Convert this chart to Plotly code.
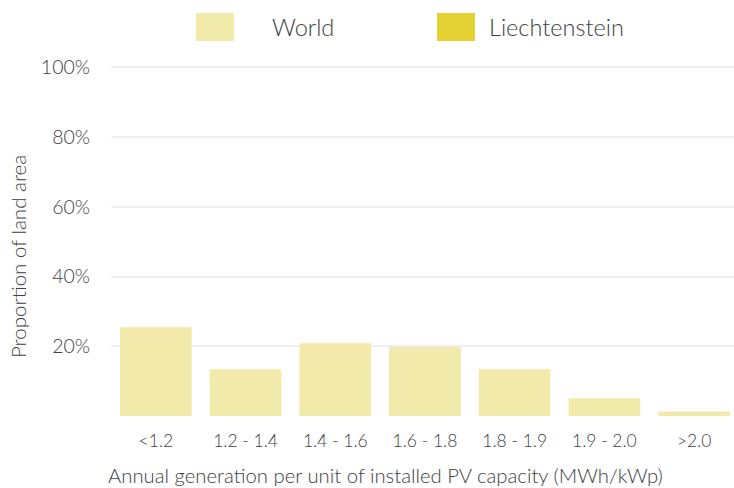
import plotly.graph_objects as go

categories = ["<1.2", "1.2 - 1.4", "1.4 - 1.6", "1.6 - 1.8", "1.8 - 1.9", "1.9 - 2.0", ">2.0"]
world = [25.5, 13.4, 20.9, 19.8, 13.4, 5.1, 1.3]
liechtenstein = [None, None, None, None, None, None, None]
y_ticks = [0, 20, 40, 60, 80, 100]
y_ticktext = ["", "20%", "40%", "60%", "80%", "100%"]

WORLD_C = "#F2EAAB"
LI_C = "#E4D134"
TXT = "#404040"
FONT = "Lato"
W8 = 300

fig = go.Figure()
fig.add_trace(go.Bar(x=categories, y=world, name="World", marker_color=WORLD_C,
                     marker_line_width=0, showlegend=False))
fig.add_trace(go.Bar(x=categories, y=liechtenstein, name="Liechtenstein", marker_color=LI_C,
                     marker_line_width=0, showlegend=False))

fig.update_layout(
    width=734, height=488,
    margin=dict(l=111, r=0, t=60, b=72),
    paper_bgcolor="white", plot_bgcolor="white",
    barmode="overlay", bargap=0.2,
    font=dict(family=FONT, color=TXT, weight=W8),
    xaxis=dict(range=[-0.5, 6.445], showgrid=False, zeroline=False, showline=False,
               tickfont=dict(size=17.5, color=TXT, weight=W8), ticks="", ticklabelstandoff=12),
    yaxis=dict(range=[0, 102.15], tickvals=y_ticks, ticktext=y_ticktext,
               showgrid=True, gridcolor="#EFEFEF", gridwidth=2, zeroline=False,
               tickfont=dict(size=19.5, color=TXT, weight=W8), ticks="", ticklabelstandoff=20),
)

# Legend (drawn manually to match large swatches)
fig.add_shape(type="rect", xref="paper", yref="paper",
              x0=(196-111)/623, x1=(234-111)/623, y0=(416-41)/356, y1=(416-13)/356,
              fillcolor=WORLD_C, line_width=0)
fig.add_shape(type="rect", xref="paper", yref="paper",
              x0=(437-111)/623, x1=(475-111)/623, y0=(416-41)/356, y1=(416-13)/356,
              fillcolor=LI_C, line_width=0)
fig.add_annotation(text="World", xref="paper", yref="paper", x=(270-111)/623, y=(416-27)/356,
                   xanchor="left", yanchor="middle", showarrow=False,
                   font=dict(size=23.5, color=TXT, weight=W8))
fig.add_annotation(text="Liechtenstein", xref="paper", yref="paper", x=(487-111)/623, y=(416-27)/356,
                   xanchor="left", yanchor="middle", showarrow=False,
                   font=dict(size=23.5, color=TXT, weight=W8))

# Axis titles
fig.add_annotation(text="Annual generation per unit of installed PV capacity (MWh/kWp)",
                   xref="paper", yref="paper", x=(385.5-111)/623, y=(416-475)/356,
                   xanchor="center", yanchor="middle", showarrow=False,
                   font=dict(size=20.3, color=TXT, weight=W8))
fig.add_annotation(text="Proportion of land area", textangle=-90,
                   xref="paper", yref="paper", x=(18-111)/623, y=(416-257)/356,
                   xanchor="center", yanchor="middle", showarrow=False,
                   font=dict(size=20.5, color=TXT, weight=W8))

fig.write_html("out.html", config={"displayModeBar": False},
               post_script="document.body.style.margin='0';")
